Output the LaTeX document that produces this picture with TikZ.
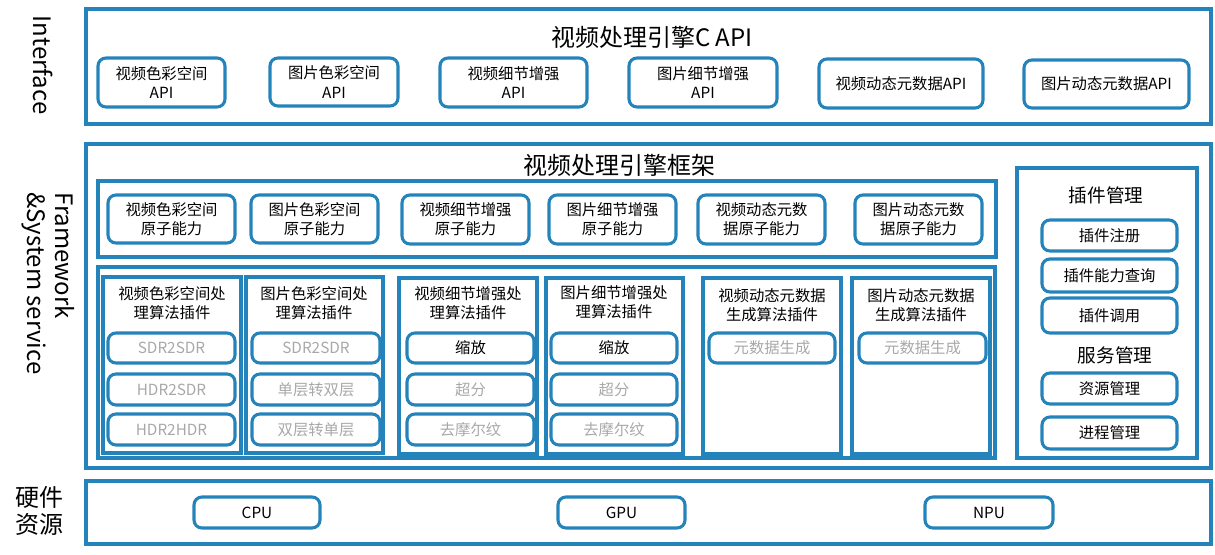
\documentclass[tikz,border=0pt]{standalone}
\usepackage{fontspec}
\setmainfont{Noto Sans CJK SC}
\definecolor{bl}{RGB}{36,131,186}
\definecolor{gr}{RGB}{168,168,168}
\newcommand\Bx[7]{\node[#1, minimum width={(#5-#3)*0.75pt}, minimum height={(#6-#4)*0.75pt}] (#2) at ({(#3+#5)/2},{(#4+#6)/2}) {#7};}
\begin{document}
\begin{tikzpicture}[x=0.75pt,y=-0.75pt,
  outer/.style={draw=bl, line width=2.3pt, inner sep=0pt, outer sep=0pt},
  rbox/.style={draw=bl, line width=2.3pt, rounded corners=6pt, inner sep=0pt, align=center, font=\fontsize{11.5}{14.5}\selectfont},
  gbox/.style={rbox, text=gr},
  ttl/.style={align=center, inner sep=0pt, font=\fontsize{11.5}{14.5}\selectfont},
  big/.style={inner sep=0pt, font=\fontsize{18}{22}\selectfont},
  mid/.style={inner sep=0pt, font=\fontsize{14}{17}\selectfont},
  side/.style={inner sep=0pt, align=left, font=\fontsize{18}{21}\selectfont}]
\useasboundingbox (0,0) rectangle (1215,554);
% side labels
\node[side, rotate=-90] (lint) at (43,65) {Interface};
\node[side, rotate=-90, anchor=north west] (lfw) at (75,192) {Framework\\\&System service};
\node[side, align=center, font=\fontsize{18}{20}\selectfont] (lhw) at (40,511) {硬件\\资源};
% Interface layer
\Bx{outer}{iface}{86}{9}{1211}{124}{}
\node[big] (ititle) at (652,37) {视频处理引擎C API};
\Bx{rbox}{a1}{98}{58}{225}{107}{视频色彩空间\\API}
\Bx{rbox}{a2}{270}{58}{398}{106}{图片色彩空间\\API}
\Bx{rbox}{a3}{440}{58}{587}{107}{视频细节增强\\API}
\Bx{rbox}{a4}{629}{58}{777}{107}{图片细节增强\\API}
\Bx{rbox}{a5}{819}{59}{983}{108}{视频动态元数据API}
\Bx{rbox}{a6}{1024}{60}{1189}{108}{图片动态元数据API}
% Framework layer
\Bx{outer}{fw}{86}{144}{1211}{468}{}
\node[big] (ftitle) at (619,165) {视频处理引擎框架};
\Bx{outer}{atom}{98}{181}{996}{257}{}
\Bx{rbox}{b1}{108}{195}{235}{243}{视频色彩空间\\原子能力}
\Bx{rbox}{b2}{251}{195}{378}{243}{图片色彩空间\\原子能力}
\Bx{rbox}{b3}{402}{195}{529}{244}{视频细节增强\\原子能力}
\Bx{rbox}{b4}{549}{195}{676}{244}{图片细节增强\\原子能力}
\Bx{rbox}{b5}{698}{195}{825}{244}{视频动态元数\\据原子能力}
\Bx{rbox}{b6}{855}{195}{982}{244}{图片动态元数\\据原子能力}
\Bx{outer}{plug}{98}{267}{995}{458}{}
% plugin columns
\Bx{outer}{c1}{103}{277}{241}{453}{}
\Bx{outer}{c2}{246}{277}{383}{453}{}
\Bx{outer}{c3}{399}{278}{537}{454}{}
\Bx{outer}{c4}{546}{278}{683}{454}{}
\Bx{outer}{c5}{703}{278}{841}{454}{}
\Bx{outer}{c6}{852}{278}{990}{454}{}
\node[ttl] (t1) at (172,303) {视频色彩空间处\\理算法插件};
\node[ttl] (t2) at (314,303) {图片色彩空间处\\理算法插件};
\node[ttl] (t3) at (468,303) {视频细节增强处\\理算法插件};
\node[ttl] (t4) at (614,302) {图片细节增强处\\理算法插件};
\node[ttl] (t5) at (772,305) {视频动态元数据\\生成算法插件};
\node[ttl] (t6) at (921,305) {图片动态元数据\\生成算法插件};
\Bx{gbox}{s11}{108}{333}{235}{363}{SDR2SDR}
\Bx{gbox}{s12}{108}{374}{235}{405}{HDR2SDR}
\Bx{gbox}{s13}{108}{414}{235}{445}{HDR2HDR}
\Bx{gbox}{s21}{252}{333}{380}{363}{SDR2SDR}
\Bx{gbox}{s22}{252}{374}{380}{405}{单层转双层}
\Bx{gbox}{s23}{252}{414}{380}{445}{双层转单层}
\Bx{rbox}{s31}{407}{333}{534}{363}{缩放}
\Bx{gbox}{s32}{407}{374}{534}{405}{超分}
\Bx{gbox}{s33}{407}{414}{534}{445}{去摩尔纹}
\Bx{rbox}{s41}{551}{333}{677}{363}{缩放}
\Bx{gbox}{s42}{551}{374}{677}{405}{超分}
\Bx{gbox}{s43}{551}{414}{677}{445}{去摩尔纹}
\Bx{gbox}{s51}{709}{333}{835}{363}{元数据生成}
\Bx{gbox}{s61}{859}{333}{986}{363}{元数据生成}
% management panel
\Bx{outer}{mgr}{1017}{168}{1197}{458}{}
\node[mid] (mt1) at (1106,195) {插件管理};
\Bx{rbox}{m1}{1042}{220}{1177}{251}{插件注册}
\Bx{rbox}{m2}{1042}{259}{1177}{292}{插件能力查询}
\Bx{rbox}{m3}{1042}{298}{1177}{333}{插件调用}
\node[mid] (mt2) at (1115,355) {服务管理};
\Bx{rbox}{m4}{1042}{373}{1177}{404}{资源管理}
\Bx{rbox}{m5}{1042}{417}{1177}{449}{进程管理}
% hardware layer
\Bx{outer}{hw}{86}{481}{1211}{544}{}
\Bx{rbox}{h1}{194}{497}{320}{528}{CPU}
\Bx{rbox}{h2}{558}{497}{685}{528}{GPU}
\Bx{rbox}{h3}{925}{497}{1053}{528}{NPU}
\end{tikzpicture}
\end{document}
